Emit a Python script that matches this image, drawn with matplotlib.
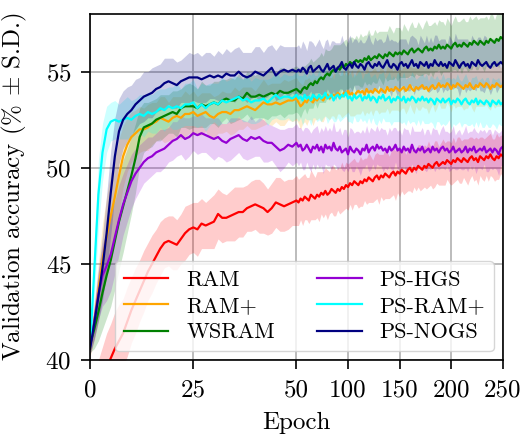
import matplotlib
matplotlib.use("Agg")
import matplotlib.pyplot as plt
import numpy as np

plt.rcParams["font.family"] = "serif"
plt.rcParams["font.serif"] = ["cmr10"]
plt.rcParams["mathtext.fontset"] = "cm"
plt.rcParams["axes.formatter.use_mathtext"] = True
plt.rcParams["axes.unicode_minus"] = False

# epochs: every epoch up to 50, every second epoch after that
epochs = list(range(0, 51)) + list(range(52, 251, 2))

ram = [
    37.2, 37.8, 38.4, 39.0, 39.6, 40.1, 40.6, 41.0, 41.4, 42.0,
    42.6, 43.1, 43.6, 44.1, 44.6, 45.0, 45.4, 45.8, 46.1, 46.2,
    46.1, 46.0, 46.3, 46.6, 46.8, 46.9, 46.8, 47.1, 47.0, 47.1,
    47.2, 47.6, 47.4, 47.4, 47.5, 47.6, 47.7, 47.7, 47.9, 48.0,
    48.1, 48.0, 47.9, 47.7, 47.9, 48.2, 48.1, 48.0, 48.1, 48.2,
    48.3,
    48.2, 48.4, 48.3, 48.5, 48.4, 48.3, 48.6, 48.5, 48.4, 48.6,
    48.5, 48.7, 48.6, 48.8, 48.6, 48.7, 48.9, 48.8, 48.7, 48.9,
    48.8, 49.0, 48.9, 49.1, 49.0, 49.2, 49.1, 49.3, 49.2, 49.1,
    49.3, 49.2, 49.4, 49.3, 49.5, 49.4, 49.3, 49.5, 49.6, 49.4,
    49.6, 49.5, 49.7, 49.6, 49.5, 49.7, 49.8, 49.6, 49.8, 49.7,
    49.9, 49.8, 49.7, 49.9, 50.0, 49.8, 50.0, 49.9, 50.1, 50.0,
    49.9, 50.1, 50.0, 50.2, 50.1, 50.0, 50.2, 50.3, 50.1, 50.2,
    50.3, 50.2, 50.4, 50.3, 50.2, 50.4, 50.3, 50.5, 50.4, 50.3,
    50.5, 50.4, 50.3, 50.5, 50.6, 50.4, 50.5, 50.3, 50.6, 50.5,
    50.4, 50.6, 50.5, 50.7, 50.5, 50.4, 50.6, 50.5, 50.7, 50.6,
]
ram_sd = [
    1.4, 1.5, 1.6, 1.7, 1.8, 1.8, 1.9, 1.9, 1.8, 1.8,
    1.7, 1.7, 1.6, 1.6, 1.5, 1.5, 1.4, 1.4, 1.3, 1.3,
    1.4, 1.3, 1.3, 1.4, 1.3, 1.3, 1.4, 1.3, 1.2, 1.3,
    1.4, 1.3, 1.3, 1.2, 1.3, 1.4, 1.3, 1.3, 1.2, 1.3,
    1.3, 1.4, 1.3, 1.2, 1.3, 1.3, 1.4, 1.3, 1.3, 1.2,
    1.3,
    1.2, 1.1, 1.3, 1.2, 1.1, 1.2, 1.3, 1.2, 1.1, 1.2,
    1.3, 1.1, 1.2, 1.2, 1.3, 1.1, 1.2, 1.3, 1.2, 1.1,
    1.2, 1.3, 1.1, 1.2, 1.2, 1.1, 1.3, 1.2, 1.1, 1.2,
    1.3, 1.2, 1.1, 1.2, 1.3, 1.2, 1.1, 1.2, 1.2, 1.3,
    1.1, 1.2, 1.3, 1.2, 1.1, 1.2, 1.2, 1.3, 1.1, 1.2,
    1.1, 1.2, 1.0, 1.1, 1.2, 1.1, 1.0, 1.1, 1.1, 1.2,
    1.0, 1.1, 1.1, 1.2, 1.0, 1.1, 1.2, 1.1, 1.0, 1.1,
    1.2, 1.1, 1.0, 1.1, 1.1, 1.2, 1.0, 1.1, 1.2, 1.1,
    1.0, 1.1, 1.2, 1.1, 1.0, 1.1, 1.1, 1.2, 1.0, 1.1,
    1.1, 1.0, 1.2, 1.1, 1.0, 1.1, 1.2, 1.1, 1.0, 1.1,
]

ram_plus = [
    40.6, 42.0, 43.6, 45.2, 46.4, 47.5, 48.5, 49.6, 50.6, 51.2,
    51.6, 51.8, 52.0, 52.0, 52.1, 52.3, 52.4, 52.6, 52.5, 52.4,
    52.6, 52.7, 52.6, 52.8, 52.8, 52.9, 52.7, 52.8, 52.9, 52.7,
    52.6, 52.8, 52.9, 52.9, 52.8, 53.0, 53.0, 53.1, 53.2, 53.1,
    53.0, 53.2, 53.4, 53.3, 53.3, 53.4, 53.3, 53.4, 53.5, 53.5,
    53.6,
    53.4, 53.2, 53.3, 53.5, 53.4, 53.6, 53.5, 53.4, 53.6, 53.5,
    53.7, 53.6, 53.5, 53.7, 53.8, 53.6, 53.7, 53.8, 53.7, 53.9,
    53.8, 53.7, 53.9, 53.8, 54.0, 53.8, 53.9, 53.7, 53.9, 54.0,
    53.9, 54.0, 53.8, 54.1, 53.9, 54.0, 53.9, 54.1, 54.0, 53.9,
    54.1, 54.0, 53.9, 54.2, 54.0, 54.1, 54.0, 54.2, 54.1, 54.0,
    54.1, 54.2, 54.0, 54.1, 54.3, 54.1, 54.0, 54.2, 54.1, 54.2,
    54.3, 54.1, 54.2, 54.0, 54.2, 54.3, 54.1, 54.2, 54.4, 54.2,
    54.3, 54.2, 54.4, 54.3, 54.1, 54.3, 54.2, 54.4, 54.3, 54.2,
    54.1, 54.3, 54.2, 54.4, 54.2, 54.1, 54.3, 54.2, 54.4, 54.3,
    54.2, 54.4, 54.3, 54.1, 54.3, 54.2, 54.4, 54.3, 54.2, 54.3,
]
ram_plus_sd = [
    0.4, 1.0, 1.5, 1.9, 2.1, 2.2, 2.1, 1.9, 1.6, 1.4,
    1.3, 1.2, 1.2, 1.1, 1.2, 1.1, 1.0, 1.1, 1.2, 1.0,
    1.1, 1.0, 1.1, 1.2, 1.0, 1.1, 1.0, 1.1, 1.0, 1.2,
    1.1, 1.0, 1.1, 1.0, 1.1, 1.2, 1.0, 1.1, 1.0, 1.1,
    1.0, 1.1, 1.2, 1.0, 1.1, 1.0, 1.1, 1.2, 1.0, 1.1,
    1.1,
    1.1, 1.2, 1.0, 1.1, 1.2, 1.1, 1.0, 1.2, 1.1, 1.0,
    1.1, 1.2, 1.1, 1.0, 1.2, 1.1, 1.0, 1.1, 1.2, 1.1,
    1.0, 1.1, 1.2, 1.0, 1.1, 1.1, 1.2, 1.0, 1.1, 1.2,
    1.1, 1.0, 1.1, 1.2, 1.1, 1.0, 1.2, 1.1, 1.0, 1.1,
    1.2, 1.1, 1.0, 1.1, 1.2, 1.1, 1.0, 1.2, 1.1, 1.1,
    1.0, 1.1, 1.2, 1.1, 1.0, 1.1, 1.2, 1.0, 1.1, 1.2,
    1.1, 1.0, 1.1, 1.2, 1.1, 1.0, 1.2, 1.1, 1.0, 1.1,
    1.2, 1.1, 1.0, 1.1, 1.2, 1.0, 1.1, 1.2, 1.1, 1.0,
    1.1, 1.2, 1.1, 1.0, 1.1, 1.2, 1.1, 1.0, 1.2, 1.1,
    1.0, 1.1, 1.2, 1.1, 1.0, 1.1, 1.2, 1.1, 1.0, 1.1,
]

wsram = [
    40.8, 41.6, 42.5, 43.5, 44.4, 45.2, 46.2, 47.2, 48.0, 48.8,
    49.6, 50.5, 51.6, 52.1, 52.2, 52.3, 52.5, 52.6, 52.7, 52.8,
    52.9, 52.8, 53.1, 53.2, 53.2, 53.2, 53.1, 53.3, 53.2, 53.3,
    53.4, 53.3, 53.5, 53.6, 53.5, 53.5, 53.7, 53.6, 53.9, 53.7,
    53.7, 53.8, 53.7, 53.8, 53.9, 53.8, 54.0, 53.9, 53.9, 54.0,
    54.1,
    54.0, 53.9, 54.1, 54.2, 54.1, 54.3, 54.4, 54.3, 54.5, 54.4,
    54.6, 54.7, 54.6, 54.8, 54.9, 54.8, 55.0, 55.1, 55.0, 55.2,
    55.1, 55.3, 55.2, 55.4, 55.3, 55.5, 55.4, 55.5, 55.6, 55.5,
    55.6, 55.5, 55.7, 55.6, 55.8, 55.6, 55.7, 55.8, 55.7, 55.9,
    55.8, 55.7, 55.9, 55.8, 56.0, 55.9, 55.8, 56.0, 55.9, 56.0,
    55.9, 56.1, 56.0, 55.9, 56.1, 56.2, 56.0, 56.1, 56.2, 56.1,
    56.0, 56.2, 56.3, 56.1, 56.2, 56.1, 56.3, 56.2, 56.4, 56.2,
    56.3, 56.2, 56.4, 56.3, 56.2, 56.4, 56.5, 56.3, 56.4, 56.3,
    56.5, 56.4, 56.3, 56.5, 56.4, 56.6, 56.5, 56.4, 56.6, 56.5,
    56.4, 56.6, 56.5, 56.7, 56.6, 56.5, 56.7, 56.6, 56.8, 56.7,
]
wsram_sd = [
    0.4, 1.0, 1.5, 1.9, 2.2, 2.4, 2.5, 2.5, 2.4, 2.2,
    2.0, 1.8, 1.5, 1.3, 1.2, 1.2, 1.1, 1.2, 1.1, 1.0,
    1.1, 1.2, 1.0, 1.1, 1.2, 1.1, 1.0, 1.2, 1.1, 1.0,
    1.1, 1.2, 1.1, 1.0, 1.2, 1.1, 1.2, 1.0, 1.1, 1.2,
    1.1, 1.2, 1.1, 1.3, 1.2, 1.1, 1.2, 1.3, 1.1, 1.2,
    1.2,
    1.2, 1.3, 1.2, 1.1, 1.3, 1.2, 1.3, 1.2, 1.1, 1.3,
    1.2, 1.3, 1.2, 1.4, 1.2, 1.3, 1.2, 1.3, 1.4, 1.2,
    1.3, 1.2, 1.4, 1.3, 1.2, 1.3, 1.4, 1.2, 1.3, 1.2,
    1.4, 1.3, 1.2, 1.3, 1.4, 1.3, 1.2, 1.4, 1.3, 1.2,
    1.3, 1.4, 1.2, 1.3, 1.4, 1.3, 1.2, 1.3, 1.4, 1.3,
    1.2, 1.4, 1.3, 1.2, 1.3, 1.4, 1.3, 1.2, 1.4, 1.3,
    1.2, 1.3, 1.4, 1.3, 1.2, 1.4, 1.3, 1.2, 1.3, 1.4,
    1.3, 1.2, 1.4, 1.3, 1.2, 1.3, 1.4, 1.3, 1.2, 1.4,
    1.3, 1.2, 1.3, 1.4, 1.3, 1.2, 1.4, 1.3, 1.2, 1.3,
    1.4, 1.3, 1.2, 1.3, 1.4, 1.2, 1.3, 1.4, 1.3, 1.3,
]

ps_hgs = [
    40.7, 42.0, 43.4, 44.4, 44.9, 45.5, 46.4, 47.3, 48.1, 48.7,
    49.3, 49.7, 50.0, 50.3, 50.5, 50.6, 50.8, 50.9, 51.0, 51.2,
    51.4, 51.5, 51.7, 51.5, 51.6, 51.8, 51.7, 51.8, 51.7, 51.6,
    51.5, 51.6, 51.4, 51.3, 51.5, 51.6, 51.7, 51.5, 51.4, 51.6,
    51.5, 51.6, 51.4, 51.3, 51.3, 51.1, 50.9, 51.0, 51.2, 51.1,
    51.3,
    51.1, 51.2, 50.9, 51.0, 51.2, 51.0, 50.8, 51.1, 51.0, 51.2,
    50.9, 51.1, 50.8, 51.2, 51.0, 51.1, 50.9, 51.3, 51.0, 50.9,
    51.1, 50.8, 50.9, 51.0, 50.7, 51.1, 50.9, 50.8, 51.0, 50.9,
    50.7, 51.0, 50.9, 51.2, 50.8, 51.0, 51.1, 50.9, 51.2, 51.0,
    51.1, 50.9, 51.0, 50.8, 51.1, 50.9, 51.0, 51.2, 50.9, 51.0,
    50.8, 51.1, 50.9, 51.0, 50.8, 51.2, 50.9, 50.8, 51.0, 50.9,
    51.1, 50.8, 50.9, 51.0, 50.8, 51.1, 50.9, 51.0, 50.8, 51.0,
    51.1, 50.9, 51.0, 50.8, 50.9, 51.1, 50.8, 50.9, 51.0, 50.8,
    50.9, 51.1, 50.8, 51.0, 50.9, 51.1, 50.8, 50.9, 51.0, 50.9,
    51.1, 50.8, 50.9, 51.0, 50.8, 51.0, 50.9, 50.7, 51.0, 51.1,
]
ps_hgs_sd = [
    0.4, 0.9, 1.3, 1.6, 1.8, 1.9, 1.9, 1.8, 1.6, 1.5,
    1.4, 1.3, 1.2, 1.1, 1.1, 1.0, 1.0, 1.1, 1.0, 0.9,
    1.0, 0.9, 1.0, 1.1, 1.0, 0.9, 1.0, 1.0, 0.9, 1.0,
    1.1, 1.0, 0.9, 1.0, 1.1, 1.0, 0.9, 1.0, 1.0, 1.1,
    0.9, 1.0, 1.1, 1.0, 0.9, 1.0, 1.1, 1.0, 0.9, 1.0,
    1.0,
    1.0, 0.9, 1.0, 1.1, 0.9, 1.0, 1.0, 0.9, 1.1, 1.0,
    0.9, 1.0, 1.1, 1.0, 0.9, 1.0, 1.0, 1.1, 0.9, 1.0,
    1.0, 0.9, 1.1, 1.0, 0.9, 1.0, 1.1, 1.0, 0.9, 1.0,
    1.1, 1.0, 0.9, 1.0, 1.0, 1.1, 0.9, 1.0, 1.0, 0.9,
    1.0, 1.1, 1.0, 0.9, 1.0, 1.0, 1.1, 0.9, 1.0, 1.0,
    0.9, 1.0, 1.1, 1.0, 0.9, 1.0, 1.0, 1.1, 0.9, 1.0,
    1.0, 0.9, 1.1, 1.0, 0.9, 1.0, 1.1, 1.0, 0.9, 1.0,
    1.1, 1.0, 0.9, 1.0, 1.0, 1.1, 0.9, 1.0, 1.0, 0.9,
    1.0, 1.1, 1.0, 0.9, 1.0, 1.0, 1.1, 0.9, 1.0, 1.0,
    0.9, 1.0, 1.1, 1.0, 0.9, 1.0, 1.0, 1.1, 0.9, 1.0,
]

ps_ram_plus = [
    40.7, 44.6, 48.6, 50.8, 52.0, 52.4, 52.5, 52.4, 52.5, 52.6,
    52.5, 52.7, 52.8, 52.7, 52.9, 52.8, 52.9, 53.1, 53.0, 53.2,
    53.1, 53.2, 53.1, 53.3, 53.3, 53.4, 53.1, 53.3, 53.1, 53.3,
    53.4, 53.3, 53.5, 53.4, 53.5, 53.6, 53.7, 53.5, 53.6, 53.4,
    53.5, 53.5, 53.6, 53.4, 53.6, 53.8, 53.6, 53.7, 53.7, 53.6,
    53.8,
    53.6, 53.7, 53.5, 53.8, 53.6, 53.7, 53.5, 53.8, 53.7, 53.6,
    53.8, 53.6, 53.7, 53.9, 53.6, 53.7, 53.8, 53.5, 53.7, 53.8,
    53.6, 53.8, 53.7, 53.9, 53.6, 53.7, 53.5, 53.8, 53.6, 53.7,
    53.8, 53.5, 53.7, 53.6, 53.8, 53.5, 53.7, 53.6, 53.4, 53.7,
    53.6, 53.8, 53.5, 53.6, 53.7, 53.4, 53.6, 53.5, 53.7, 53.6,
    53.5, 53.7, 53.4, 53.6, 53.5, 53.7, 53.6, 53.4, 53.6, 53.5,
    53.7, 53.5, 53.6, 53.4, 53.6, 53.5, 53.3, 53.6, 53.5, 53.4,
    53.6, 53.4, 53.5, 53.6, 53.3, 53.5, 53.4, 53.6, 53.5, 53.3,
    53.5, 53.6, 53.4, 53.3, 53.5, 53.4, 53.6, 53.3, 53.5, 53.4,
    53.3, 53.5, 53.4, 53.2, 53.5, 53.4, 53.3, 53.5, 53.3, 53.4,
]
ps_ram_plus_sd = [
    0.4, 1.4, 1.8, 1.5, 1.2, 1.0, 1.0, 0.9, 1.0, 1.1,
    1.0, 0.9, 1.0, 1.1, 1.0, 1.0, 1.1, 1.0, 1.1, 1.0,
    1.1, 1.2, 1.0, 1.1, 1.1, 1.2, 1.0, 1.1, 1.2, 1.1,
    1.0, 1.1, 1.2, 1.1, 1.1, 1.2, 1.0, 1.1, 1.2, 1.1,
    1.2, 1.1, 1.0, 1.2, 1.1, 1.2, 1.1, 1.2, 1.1, 1.2,
    1.2,
    1.2, 1.1, 1.3, 1.2, 1.1, 1.2, 1.3, 1.2, 1.1, 1.2,
    1.3, 1.2, 1.1, 1.2, 1.3, 1.2, 1.2, 1.1, 1.3, 1.2,
    1.2, 1.3, 1.1, 1.2, 1.2, 1.3, 1.2, 1.1, 1.2, 1.3,
    1.2, 1.1, 1.2, 1.3, 1.2, 1.2, 1.1, 1.3, 1.2, 1.2,
    1.3, 1.2, 1.1, 1.2, 1.3, 1.2, 1.2, 1.1, 1.3, 1.2,
    1.2, 1.3, 1.2, 1.1, 1.2, 1.3, 1.2, 1.2, 1.1, 1.3,
    1.2, 1.2, 1.3, 1.1, 1.2, 1.2, 1.3, 1.2, 1.1, 1.2,
    1.3, 1.2, 1.2, 1.1, 1.3, 1.2, 1.2, 1.3, 1.1, 1.2,
    1.2, 1.3, 1.2, 1.1, 1.2, 1.3, 1.2, 1.2, 1.1, 1.3,
    1.2, 1.2, 1.3, 1.1, 1.2, 1.2, 1.3, 1.2, 1.1, 1.2,
]

ps_nogs = [
    40.6, 41.9, 43.3, 44.8, 46.6, 48.7, 50.6, 51.9, 52.5, 52.8,
    53.0, 53.3, 53.5, 53.7, 53.8, 53.9, 54.1, 54.2, 54.4, 54.5,
    54.4, 54.3, 54.5, 54.6, 54.7, 54.7, 54.7, 54.6, 54.7, 54.8,
    54.7, 54.8, 54.7, 54.9, 54.8, 54.8, 55.0, 54.8, 54.7, 54.8,
    55.0, 54.9, 54.8, 55.0, 55.2, 54.8, 55.0, 55.1, 55.0, 55.1,
    55.0,
    55.1, 55.0, 55.2, 55.1, 54.9, 55.2, 55.3, 55.0, 55.1, 55.2,
    55.3, 55.1, 55.0, 55.2, 55.4, 55.1, 55.2, 55.3, 55.0, 55.2,
    55.3, 55.5, 55.2, 55.1, 55.3, 55.4, 55.2, 55.5, 55.3, 55.2,
    55.4, 55.3, 55.1, 55.4, 55.5, 55.3, 55.2, 55.4, 55.3, 55.5,
    55.3, 55.2, 55.4, 55.6, 55.3, 55.2, 55.4, 55.3, 55.1, 55.4,
    55.5, 55.3, 55.4, 55.2, 55.4, 55.6, 55.3, 55.4, 55.2, 55.5,
    55.4, 55.3, 55.5, 55.2, 55.4, 55.3, 55.6, 55.4, 55.3, 55.5,
    55.3, 55.4, 55.2, 55.5, 55.4, 55.3, 55.6, 55.4, 55.2, 55.4,
    55.5, 55.3, 55.4, 55.2, 55.5, 55.4, 55.3, 55.6, 55.4, 55.3,
    55.4, 55.5, 55.3, 55.2, 55.4, 55.5, 55.3, 55.4, 55.5, 55.4,
]
ps_nogs_sd = [
    0.3, 0.8, 1.3, 1.7, 2.0, 2.2, 2.0, 1.7, 1.5, 1.4,
    1.3, 1.3, 1.2, 1.3, 1.2, 1.3, 1.2, 1.2, 1.3, 1.2,
    1.3, 1.2, 1.1, 1.2, 1.3, 1.2, 1.3, 1.2, 1.3, 1.2,
    1.1, 1.3, 1.2, 1.3, 1.2, 1.4, 1.3, 1.2, 1.3, 1.2,
    1.3, 1.4, 1.2, 1.3, 1.2, 1.3, 1.4, 1.2, 1.3, 1.2,
    1.3,
    1.3, 1.2, 1.4, 1.3, 1.2, 1.4, 1.3, 1.5, 1.2, 1.3,
    1.4, 1.3, 1.2, 1.4, 1.3, 1.2, 1.4, 1.3, 1.5, 1.3,
    1.2, 1.4, 1.3, 1.2, 1.4, 1.5, 1.3, 1.2, 1.4, 1.3,
    1.3, 1.2, 1.4, 1.3, 1.5, 1.3, 1.2, 1.4, 1.3, 1.2,
    1.4, 1.3, 1.2, 1.4, 1.3, 1.5, 1.2, 1.3, 1.4, 1.3,
    1.2, 1.4, 1.3, 1.2, 1.4, 1.3, 1.5, 1.3, 1.2, 1.4,
    1.3, 1.2, 1.4, 1.3, 1.4, 1.2, 1.3, 1.5, 1.3, 1.2,
    1.4, 1.3, 1.2, 1.4, 1.3, 1.2, 1.4, 1.3, 1.5, 1.3,
    1.2, 1.4, 1.3, 1.2, 1.4, 1.3, 1.3, 1.2, 1.4, 1.3,
    1.5, 1.3, 1.2, 1.4, 1.3, 1.2, 1.4, 1.3, 1.2, 1.3,
]

methods = ["RAM", "RAM+", "WSRAM", "PS-HGS", "PS-RAM+", "PS-NOGS"]
means = [ram, ram_plus, wsram, ps_hgs, ps_ram_plus, ps_nogs]
sds = [ram_sd, ram_plus_sd, wsram_sd, ps_hgs_sd, ps_ram_plus_sd, ps_nogs_sd]
colors = ["red", "orange", "green", "darkviolet", "cyan", "navy"]


# x axis: 0-50 gets the first half, 50-250 the second half
def fwd(v):
    v = np.asarray(v, dtype=float)
    return np.where(v <= 50, v, 50 + (v - 50) / 4.0)


def inv(v):
    v = np.asarray(v, dtype=float)
    return np.where(v <= 50, v, 50 + (v - 50) * 4.0)


fig = plt.figure(figsize=(5.27, 4.36), dpi=100)
ax = fig.add_axes([0.171, 0.174, 0.783, 0.794])
ax.set_xscale("function", functions=(fwd, inv))

x = np.array(epochs)
for name, m, s, c in zip(methods, means, sds, colors):
    m = np.array(m)
    s = np.array(s)
    ax.fill_between(x, m - s, m + s, color=c, alpha=0.2, linewidth=0)
    ax.plot(x, m, color=c, linewidth=1.6, label=name)

ax.set_xlim(0, 250)
ax.set_ylim(40, 58)
ax.set_xticks([0, 25, 50, 100, 150, 200, 250])
ax.set_xticklabels(["0", "25", "50", "100", "150", "200", "250"])
ax.set_yticks([40, 45, 50, 55])
ax.tick_params(labelsize=18, length=6.5, width=1.2, pad=7)
ax.minorticks_off()
ax.grid(True, color="#b0b0b0", linewidth=1.2)
ax.set_axisbelow(True)
for sp in ax.spines.values():
    sp.set_linewidth(1.2)

ax.set_xlabel("Epoch", fontsize=18, labelpad=8)
ax.set_ylabel(r"Validation accuracy (% $\pm$ S.D.)", fontsize=18, labelpad=12)

ax.legend(loc="lower right", ncol=2, fontsize=16, handlelength=2.0,
          columnspacing=1.9, borderaxespad=0.4, labelspacing=0.3,
          handletextpad=0.8)

fig.savefig("out.png", dpi=100)
plt.close()
